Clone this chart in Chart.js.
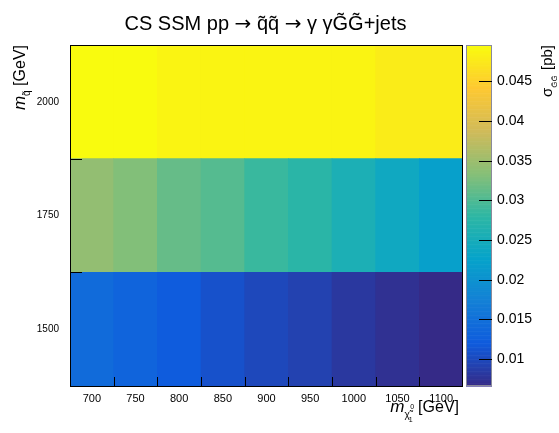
<!DOCTYPE html>
<html>
<head>
<meta charset="utf-8">
<script src="https://cdn.jsdelivr.net/npm/chart.js@4.4.1/dist/chart.umd.min.js"></script>
<style>
html,body{margin:0;padding:0;background:#fff;}
#wrap{width:559px;height:433px;position:relative;}
</style>
</head>
<body>
<div id="wrap"><canvas id="c" width="559" height="433"></canvas></div>
<script>
// ---- data ----
const xLabels = ['700','750','800','850','900','950','1000','1050','1100'];
const yCenters = [1500, 1750, 2000];
const yBinWidth = 250;
const row1500 = [0.0143, 0.0132, 0.0121, 0.0108, 0.0099, 0.0091, 0.0082, 0.0073, 0.0066];
const row1750 = [0.0344, 0.0331, 0.0315, 0.0304, 0.0287, 0.0276, 0.0257, 0.0241, 0.0222];
const row2000 = [0.0496, 0.0496, 0.0489, 0.0489, 0.0489, 0.0489, 0.0489, 0.0481, 0.0481];
const rows = [row1500, row1750, row2000];
const yTicks = [1500, 1750, 2000];
const zTicks = [0.01, 0.015, 0.02, 0.025, 0.03, 0.035, 0.04, 0.045];
const zMin = 0.0066, zMax = 0.0496;
const titleParts = ['CS SSM pp ', '\u2192', ' q\u0303q\u0303 ', '\u2192', ' \u03b3 \u03b3G\u0303G\u0303+jets'];

// ---- kBird palette ----
const stops = [0.0,0.125,0.25,0.375,0.5,0.625,0.75,0.875,1.0];
const pr = [0.2082,0.0592,0.0780,0.0232,0.1802,0.5301,0.8186,0.9956,0.9764];
const pg = [0.1664,0.3599,0.5041,0.6419,0.7178,0.7492,0.7328,0.7862,0.9832];
const pb = [0.5293,0.8684,0.8385,0.7914,0.6425,0.4662,0.3499,0.1968,0.0539];
function birdT(t){
  t = Math.max(0, Math.min(1, t));
  t = Math.round(t*254)/254;
  let i = 0;
  while (i < stops.length-2 && t > stops[i+1]) i++;
  const f = (t - stops[i])/(stops[i+1]-stops[i]);
  const c = a => Math.round(255*(a[i] + f*(a[i+1]-a[i])));
  return 'rgb(' + c(pr) + ',' + c(pg) + ',' + c(pb) + ')';
}
function colorFor(v){ return birdT((v - zMin)/(zMax - zMin)); }

const FONT = '"Liberation Sans", Arial, Helvetica, sans-serif';

const datasets = rows.map((vals, r) => ({
  label: 'm_sq ' + yCenters[r],
  data: vals.map(() => [yCenters[r] - yBinWidth/2, yCenters[r] + yBinWidth/2]),
  backgroundColor: vals.map(colorFor),
  borderWidth: 0,
  barPercentage: 1,
  categoryPercentage: 1,
  grouped: false,
  yAxisID: 'y'
}));

const decor = {
  id: 'decor',
  afterDraw(chart){
    const ctx = chart.ctx, ca = chart.chartArea;
    const xs = chart.scales.x, ys = chart.scales.y, zs = chart.scales.z;
    ctx.save();
    // colorbar
    const cbL = 466, cbR = 492;
    const N = 255;
    for (let k = 0; k < N; k++) {
      const v0 = zMin + (zMax - zMin)*k/N, v1 = zMin + (zMax - zMin)*(k+1)/N;
      const p0 = zs.getPixelForValue(v0), p1 = zs.getPixelForValue(v1);
      ctx.fillStyle = colorFor((v0+v1)/2);
      ctx.fillRect(cbL, p1, cbR - cbL, p0 - p1 + 0.6);
    }
    ctx.strokeStyle = '#8a8a9a';
    ctx.lineWidth = 1;
    ctx.strokeRect(cbL + 0.5, zs.getPixelForValue(zMax) + 0.5, cbR - cbL - 1, zs.getPixelForValue(zMin) - zs.getPixelForValue(zMax) - 1);
    ctx.strokeStyle = '#000';
    ctx.beginPath();
    zTicks.forEach(v => {
      const p = Math.round(zs.getPixelForValue(v)) + 0.5;
      ctx.moveTo(479, p); ctx.lineTo(cbR, p);
    });
    ctx.stroke();

    // frame
    ctx.strokeStyle = '#000';
    ctx.lineWidth = 1;
    ctx.strokeRect(Math.round(ca.left) + 0.5, Math.round(ca.top) + 0.5, Math.round(ca.right - ca.left) - 1, Math.round(ca.bottom - ca.top));
    // x ticks at bin edges
    ctx.beginPath();
    for (let i = 1; i < xLabels.length; i++) {
      const p = Math.round((xs.getPixelForValue(i-1) + xs.getPixelForValue(i))/2) + 0.5;
      ctx.moveTo(p, ca.bottom); ctx.lineTo(p, ca.bottom - 9);
    }
    // y ticks at bin edges
    yCenters.forEach(c => {
      [c - yBinWidth/2, c + yBinWidth/2].forEach(e => {
        const p = Math.round(ys.getPixelForValue(e)) + 0.5;
        ctx.moveTo(ca.left, p); ctx.lineTo(ca.left + 12, p);
      });
    });
    ctx.stroke();

    ctx.fillStyle = '#000';
    // main title (arrows in DejaVu Sans)
    {
      const tf = '20px ' + FONT, af = '20px "DejaVu Sans", ' + FONT;
      ctx.textAlign = 'left';
      ctx.textBaseline = 'alphabetic';
      const widths = titleParts.map((p, i) => { ctx.font = (i % 2) ? af : tf; return ctx.measureText(p).width; });
      const total = widths.reduce((a, b) => a + b, 0);
      let x = (ca.left + ca.right)/2 - 1 - total/2;
      titleParts.forEach((p, i) => {
        ctx.font = (i % 2) ? af : tf;
        ctx.fillText(p, x, 30);
        x += widths[i];
      });
    }

    // x axis title: m_{chi~_1^0} [GeV], right aligned to plot edge
    {
      const big = '16px ' + FONT, ital = 'italic 17px ' + FONT, sm = '10px ' + FONT, tiny = '7px ' + FONT;
      ctx.textAlign = 'left';
      ctx.font = big; const wG = ctx.measureText(' [GeV]').width;
      ctx.font = ital; const wm = ctx.measureText('m').width;
      ctx.font = sm; const wc = ctx.measureText('\u03c7\u0303').width;
      const wsub = wc + 4;
      const right = ca.right - 4, base = 412;
      let x = right - wG - wsub - wm;
      ctx.font = ital; ctx.fillText('m', x, base); x += wm;
      ctx.font = sm; ctx.fillText('\u03c7\u0303', x, base + 6);
      ctx.font = tiny; ctx.fillText('0', x + wc + 0.5, base - 3); ctx.fillText('1', x + wc - 1, base + 10);
      x += wsub;
      ctx.font = big; ctx.fillText(' [GeV]', x, base);
    }
    // y axis title: m_{q~} [GeV], rotated, end at top
    {
      ctx.save();
      ctx.translate(25, ca.top);
      ctx.rotate(-Math.PI/2);
      const big = '16px ' + FONT, ital = 'italic 17px ' + FONT, sm = '10px ' + FONT;
      ctx.textAlign = 'left';
      ctx.font = big; const wG = ctx.measureText(' [GeV]').width;
      ctx.font = ital; const wm = ctx.measureText('m').width;
      ctx.font = sm; const wq = ctx.measureText('q\u0303').width;
      let x = -(wG + wq + wm);
      ctx.font = ital; ctx.fillText('m', x, 0); x += wm;
      ctx.font = sm; ctx.fillText('q\u0303', x, 5); x += wq;
      ctx.font = big; ctx.fillText(' [GeV]', x, 0);
      ctx.restore();
    }
    // colorbar title: sigma_{G~G~} [pb]
    {
      ctx.save();
      ctx.translate(552, ca.top);
      ctx.rotate(-Math.PI/2);
      const big = '15px ' + FONT, sm = '8px ' + FONT;
      ctx.textAlign = 'left';
      ctx.font = big; const wp = ctx.measureText(' [pb]').width; const ws = ctx.measureText('\u03c3').width;
      ctx.font = sm; const wg = ctx.measureText('G\u0303G\u0303').width;
      let x = -(wp + wg + ws + 1);
      ctx.font = big; ctx.fillText('\u03c3', x, 0); x += ws;
      ctx.font = sm; ctx.fillText('G\u0303G\u0303', x, 5); x += wg + 1;
      ctx.font = big; ctx.fillText(' [pb]', x, 0);
      ctx.restore();
    }
    ctx.restore();
  }
};

new Chart(document.getElementById('c'), {
  type: 'bar',
  data: { labels: xLabels, datasets },
  options: {
    responsive: false,
    animation: false,
    devicePixelRatio: 1,
    layout: { padding: { top: 45, left: 0, right: 0, bottom: 0 } },
    plugins: { legend: { display: false }, title: { display: false }, tooltip: { enabled: false } },
    scales: {
      x: {
        type: 'category',
        offset: true,
        grid: { display: false, drawTicks: false },
        border: { display: false },
        ticks: { font: { family: FONT, size: 11 }, color: '#000', padding: 6, maxRotation: 0, autoSkip: false },
        afterFit(s){ s.height = 47; }
      },
      y: {
        type: 'linear',
        position: 'left',
        min: yCenters[0] - yBinWidth/2,
        max: yCenters[yCenters.length-1] + yBinWidth/2,
        grid: { display: false, drawTicks: false },
        border: { display: false },
        ticks: { font: { family: FONT, size: 10 }, color: '#000', padding: 11, callback: v => String(v) },
        afterBuildTicks(s){ s.ticks = yTicks.map(v => ({ value: v })); },
        afterFit(s){ s.width = 70; }
      },
      z: {
        type: 'linear',
        position: 'right',
        min: zMin,
        max: zMax,
        grid: { display: false, drawTicks: false },
        border: { display: false },
        ticks: { font: { family: FONT, size: 14 }, color: '#000', padding: 34, callback: v => String(v) },
        afterBuildTicks(s){ s.ticks = zTicks.map(v => ({ value: v })); },
        afterFit(s){ s.width = 96; }
      }
    }
  },
  plugins: [decor]
});
</script>
</body>
</html>
